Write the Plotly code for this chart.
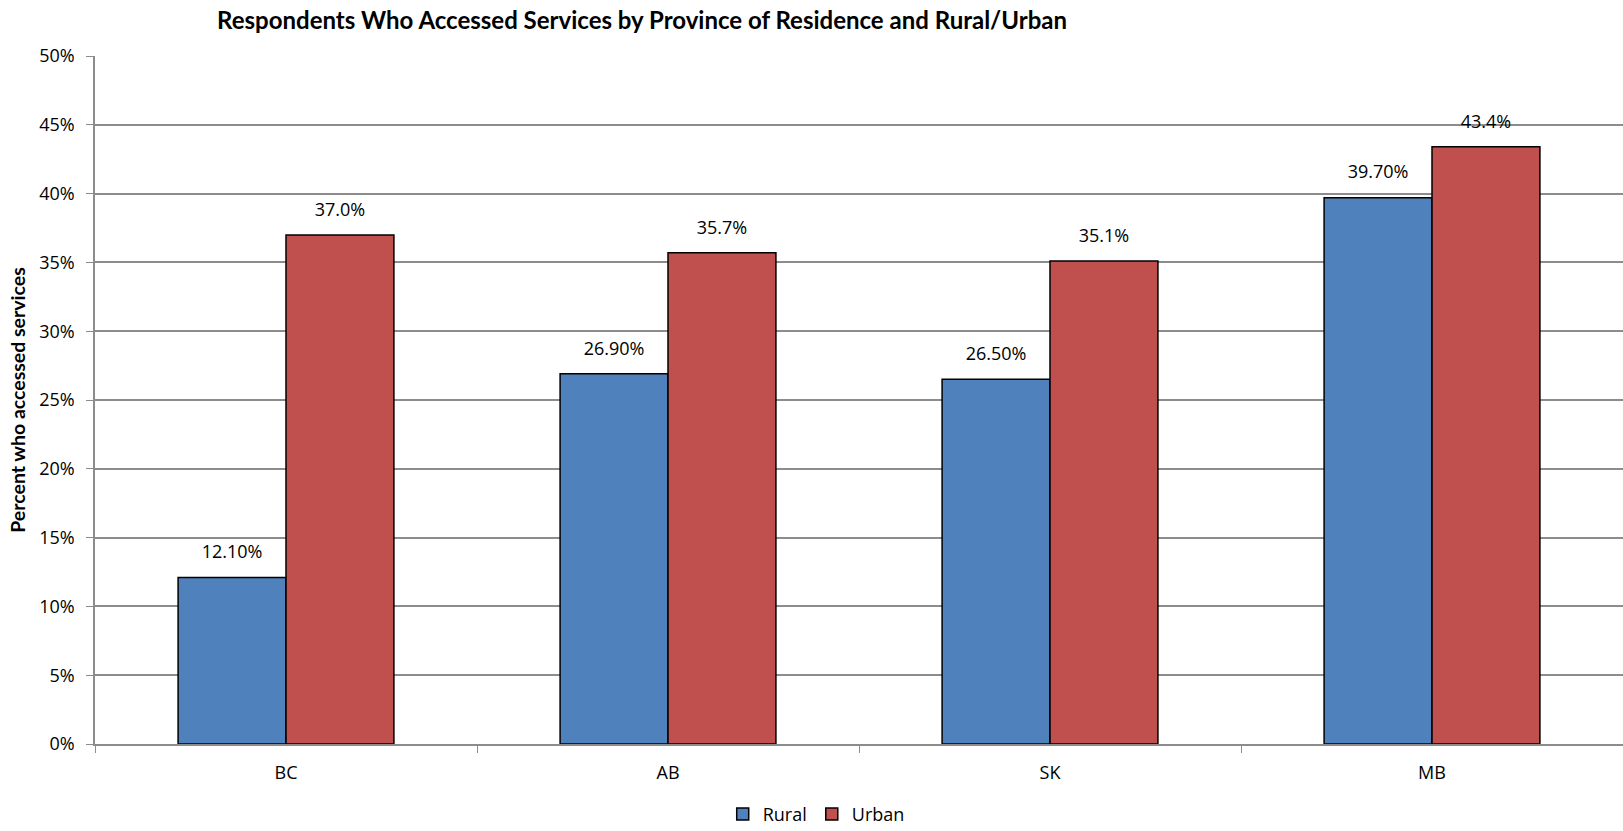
import plotly.graph_objects as go

provinces = ["BC", "AB", "SK", "MB"]
rural = [12.10, 26.90, 26.50, 39.70]
urban = [37.0, 35.7, 35.1, 43.4]

rural_text = [f"{v:.2f}%" for v in rural]
urban_text = [f"{v:.1f}%" for v in urban]

base_font = "Open Sans, DejaVu Sans, sans-serif"
label_font = dict(family=base_font, size=18, color="#000000")
grid_color = "#8c8c8c"

fig = go.Figure()
fig.add_trace(go.Bar(
    name="Rural", x=provinces, y=rural, offsetgroup="rural",
    marker=dict(color="#4F81BD", line=dict(color="#000000", width=1.5)),
))
fig.add_trace(go.Bar(
    name="Urban", x=provinces, y=urban, offsetgroup="urban",
    marker=dict(color="#C0504D", line=dict(color="#000000", width=1.5)),
))

# value labels floating above each bar (invisible markers keep them lifted)
for vals, txt, grp in [(rural, rural_text, "rural"), (urban, urban_text, "urban")]:
    fig.add_trace(go.Scatter(
        x=provinces, y=vals, text=txt, mode="markers+text",
        offsetgroup=grp, textposition="top center", textfont=label_font,
        marker=dict(size=22, opacity=0), showlegend=False, hoverinfo="skip",
        cliponaxis=False,
    ))

fig.update_layout(
    width=1623, height=831,
    margin=dict(l=95, r=0, t=56, b=87, autoexpand=False),
    paper_bgcolor="white", plot_bgcolor="white",
    barmode="group", bargap=0.435, bargroupgap=0,
    scattermode="group", scattergap=0.435,
    title=dict(
        text="<b>Respondents Who Accessed Services by Province of Residence and Rural/Urban</b>",
        x=0.3956, xanchor="center", y=0.975, yanchor="middle",
        font=dict(family="Lato, sans-serif", size=24, color="#000000"),
    ),
    font=label_font,
    showlegend=True,
    legend=dict(
        orientation="h", x=0.472, xanchor="center",
        yref="container", y=0.02, yanchor="middle",
        font=dict(family=base_font, size=18, color="#000000"),
        itemwidth=30, traceorder="normal",
    ),
)

fig.update_yaxes(
    range=[0, 50], dtick=5, ticksuffix="%", automargin=False,
    showgrid=True, gridcolor=grid_color, gridwidth=1.5,
    showline=True, linecolor=grid_color, linewidth=1.5,
    ticks="outside", ticklen=7, tickcolor=grid_color, ticklabelstandoff=8,
    tickfont=dict(family=base_font, size=18, color="#000000"),
    zeroline=False,
    title=dict(text="<b>Percent who accessed services</b>",
               font=dict(family="Lato, sans-serif", size=19.5, color="#000000"),
               standoff=8),
)
fig.update_xaxes(
    showline=True, linecolor=grid_color, linewidth=1.5, automargin=False,
    ticks="outside", ticklen=7, tickcolor=grid_color, tickson="boundaries",
    ticklabelstandoff=12,
    tickfont=dict(family=base_font, size=18, color="#000000"),
    showgrid=False,
)

fig.write_html("out.html")
